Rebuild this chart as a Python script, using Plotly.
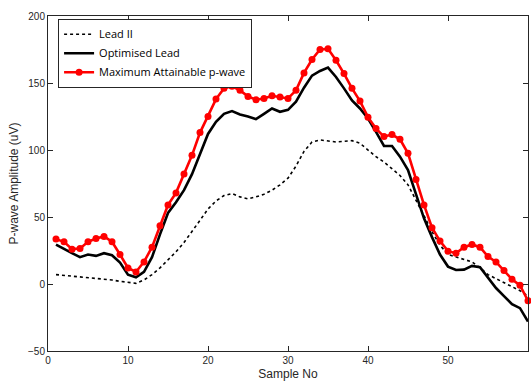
import plotly.graph_objects as go

samples = list(range(1, 61))

lead_ii = [7, 6.5, 6, 5.5, 5, 4.5, 4, 3, 2, 1.5,
           0.5, 3, 7, 12, 18, 24, 31, 39, 47.5, 56,
           62, 66, 67.5, 65, 63.5, 65, 67, 70, 74, 79,
           88, 99, 106, 107.5, 107, 106, 106.5, 107, 105, 100,
           95, 91, 86, 81, 74, 63, 51, 39, 29, 22,
           20, 18.5, 16.5, 12, 7, 4, 1, -2, -5, -9]

optimised = [29.4, 26, 23, 20, 22, 21, 23, 21.5, 16, 7,
             5, 9, 20, 37, 53, 61, 70, 82, 97, 112,
             121, 127, 129, 126.5, 125, 123, 127, 131, 128.5, 130,
             136, 146.5, 155.5, 159, 161.5, 154.5, 146, 137, 131, 123.5,
             113.5, 103, 103, 95, 85, 67, 49, 35, 22, 13,
             10.5, 10.7, 13.5, 12.5, 5, -3, -9, -15, -18, -28]

max_pwave = [33.5, 31.5, 26, 26.5, 31.5, 34, 35.5, 31.5, 22, 12,
             9, 16.5, 27.5, 43.5, 59, 68, 82, 96, 113, 125,
             138, 146, 147.5, 144.5, 140, 137.5, 138.5, 140.5, 139.5, 138.5,
             144.5, 157.5, 167.5, 175, 175.5, 167, 157, 146, 136.5, 124.5,
             116, 110, 111.5, 108, 97.5, 78, 59, 42, 32, 24.5,
             23, 27.5, 29.5, 27.5, 20.5, 16.5, 10, 3.5, -1, -12.5]

x_ticks = [0, 10, 20, 30, 40, 50, 60]
y_ticks = [-50, 0, 50, 100, 150, 200]

fig = go.Figure()
fig.add_trace(go.Scatter(x=samples, y=lead_ii, mode="lines", name="Lead II",
                         line=dict(color="black", width=1.6, dash="dot")))
fig.add_trace(go.Scatter(x=samples, y=optimised, mode="lines", name="Optimised Lead",
                         line=dict(color="black", width=2.6)))
fig.add_trace(go.Scatter(x=samples, y=max_pwave, mode="lines+markers",
                         name="Maximum Attainable p-wave",
                         line=dict(color="#ff0000", width=2.6),
                         marker=dict(color="#ff0000", size=7, symbol="circle"),
                         cliponaxis=False))

axis_common = dict(showgrid=False, zeroline=False, showline=True, linecolor="#262626",
                   linewidth=1, mirror="allticks", ticks="inside", ticklen=5,
                   tickcolor="#262626", tickfont=dict(family="Liberation Sans, Arial", size=10, color="#262626"))

fig.update_xaxes(range=[0, 60], tickvals=x_ticks, title=dict(text="Sample No", standoff=4,
                 font=dict(family="Liberation Sans, Arial", size=12, color="#262626")), **axis_common)
fig.update_yaxes(range=[-50, 200], tickvals=y_ticks, title=dict(text="P-wave Amplitude (uV)", standoff=6,
                 font=dict(family="Liberation Sans, Arial", size=12, color="#262626")), **axis_common)

fig.update_layout(
    width=531, height=381,
    margin=dict(l=48, r=3, t=16, b=30),
    paper_bgcolor="white", plot_bgcolor="white",
    showlegend=True,
    legend=dict(x=0.021, y=0.992, xanchor="left", yanchor="top",
                bgcolor="white", bordercolor="#262626", borderwidth=1,
                font=dict(family="Open Sans, Liberation Sans, Arial", size=11, color="black"),
                itemwidth=30, tracegroupgap=0),
)

fig.write_html("out.html", config={"displayModeBar": False},
               post_script="document.body.style.margin='0';document.body.style.overflow='hidden';")
